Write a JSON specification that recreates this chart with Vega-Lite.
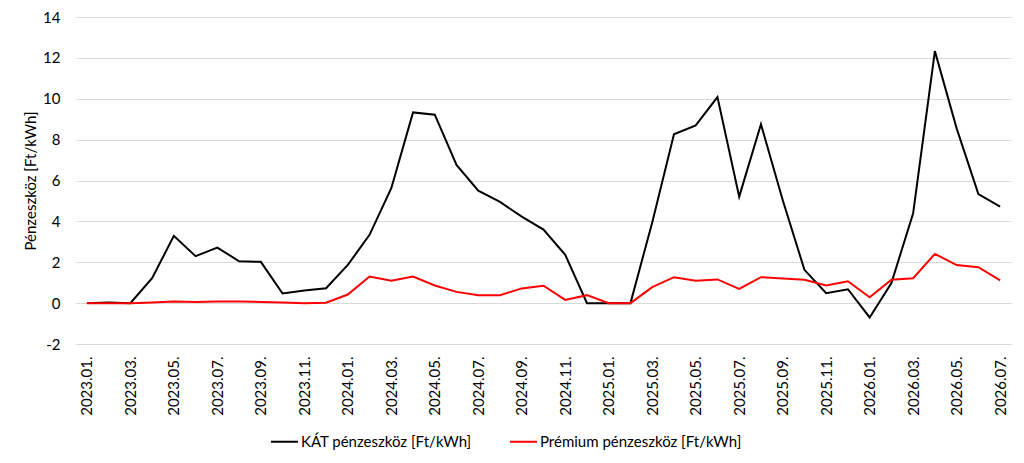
{
  "$schema": "https://vega.github.io/schema/vega-lite/v6.json",
  "autosize": {"type": "none"},
  "padding": {"left": 76, "top": 17, "right": 13, "bottom": 119},
  "width": 935,
  "height": 327,
  "background": "white",
  "config": {
    "view": {"stroke": null},
    "font": "Lato",
    "axis": {"labelFont": "Lato", "titleFont": "Lato", "labelColor": "#000000", "titleColor": "#000000"}
  },
  "datasets": {
    "raw": [
      {"m": "2023.01.", "kat": 0, "prem": 0},
      {"m": "2023.02.", "kat": 0.03, "prem": 0},
      {"m": "2023.03.", "kat": 0, "prem": 0},
      {"m": "2023.04.", "kat": 1.22, "prem": 0.03},
      {"m": "2023.05.", "kat": 3.29, "prem": 0.08},
      {"m": "2023.06.", "kat": 2.3, "prem": 0.06},
      {"m": "2023.07.", "kat": 2.72, "prem": 0.08},
      {"m": "2023.08.", "kat": 2.05, "prem": 0.08},
      {"m": "2023.09.", "kat": 2.02, "prem": 0.06},
      {"m": "2023.10.", "kat": 0.47, "prem": 0.03},
      {"m": "2023.11.", "kat": 0.62, "prem": 0},
      {"m": "2023.12.", "kat": 0.73, "prem": 0.02},
      {"m": "2024.01.", "kat": 1.87, "prem": 0.42},
      {"m": "2024.02.", "kat": 3.34, "prem": 1.3},
      {"m": "2024.03.", "kat": 5.62, "prem": 1.09},
      {"m": "2024.04.", "kat": 9.33, "prem": 1.3},
      {"m": "2024.05.", "kat": 9.22, "prem": 0.86},
      {"m": "2024.06.", "kat": 6.76, "prem": 0.55},
      {"m": "2024.07.", "kat": 5.5, "prem": 0.39},
      {"m": "2024.08.", "kat": 4.95, "prem": 0.39},
      {"m": "2024.09.", "kat": 4.23, "prem": 0.72},
      {"m": "2024.10.", "kat": 3.6, "prem": 0.85},
      {"m": "2024.11.", "kat": 2.36, "prem": 0.16},
      {"m": "2024.12.", "kat": 0, "prem": 0.39},
      {"m": "2025.01.", "kat": 0, "prem": 0},
      {"m": "2025.02.", "kat": 0, "prem": 0},
      {"m": "2025.03.", "kat": 3.95, "prem": 0.78},
      {"m": "2025.04.", "kat": 8.26, "prem": 1.27},
      {"m": "2025.05.", "kat": 8.7, "prem": 1.09},
      {"m": "2025.06.", "kat": 10.08, "prem": 1.16},
      {"m": "2025.07.", "kat": 5.21, "prem": 0.7},
      {"m": "2025.08.", "kat": 8.75, "prem": 1.27},
      {"m": "2025.09.", "kat": 5.05, "prem": 1.2},
      {"m": "2025.10.", "kat": 1.63, "prem": 1.14},
      {"m": "2025.11.", "kat": 0.49, "prem": 0.86},
      {"m": "2025.12.", "kat": 0.68, "prem": 1.07},
      {"m": "2026.01.", "kat": -0.7, "prem": 0.29},
      {"m": "2026.02.", "kat": 0.98, "prem": 1.14},
      {"m": "2026.03.", "kat": 4.4, "prem": 1.22},
      {"m": "2026.04.", "kat": 12.33, "prem": 2.41},
      {"m": "2026.05.", "kat": 8.55, "prem": 1.86},
      {"m": "2026.06.", "kat": 5.34, "prem": 1.76},
      {"m": "2026.07.", "kat": 4.72, "prem": 1.11}
    ]
  },
  "data": {"name": "raw"},
  "transform": [
    {"fold": ["kat", "prem"], "as": ["key", "value"]},
    {"calculate": "datum.key === 'kat' ? 'KÁT pénzeszköz [Ft/kWh]' : 'Prémium pénzeszköz [Ft/kWh]'", "as": "series"}
  ],
  "mark": {"type": "line", "strokeWidth": 2, "strokeJoin": "miter"},
  "encoding": {
    "x": {
      "field": "m",
      "type": "ordinal",
      "sort": null,
      "scale": {"type": "point", "padding": 0.5},
      "axis": {
        "title": null,
        "values": ["2023.01.", "2023.03.", "2023.05.", "2023.07.", "2023.09.", "2023.11.", "2024.01.", "2024.03.", "2024.05.", "2024.07.", "2024.09.", "2024.11.", "2025.01.", "2025.03.", "2025.05.", "2025.07.", "2025.09.", "2025.11.", "2026.01.", "2026.03.", "2026.05.", "2026.07."],
        "labelAngle": -90,
        "labelAlign": "right",
        "labelBaseline": "middle",
        "labelFontSize": 15,
        "labelPadding": 12,
        "ticks": false,
        "domain": false,
        "grid": false
      }
    },
    "y": {
      "field": "value",
      "type": "quantitative",
      "scale": {"domain": [-2, 14], "nice": false},
      "axis": {
        "title": "Pénzeszköz [Ft/kWh]",
        "titleFontSize": 15,
        "titleFontWeight": "normal",
        "titleX": -46,
        "titleBaseline": "middle",
        "values": [-2, 0, 2, 4, 6, 8, 10, 12, 14],
        "labelExpr": "replace(datum.label, '−', '-')",
        "labelFontSize": 15,
        "labelPadding": 16,
        "ticks": false,
        "domain": false,
        "grid": true,
        "gridColor": "#d9d9d9",
        "gridWidth": 1
      }
    },
    "color": {
      "field": "series",
      "type": "nominal",
      "scale": {"domain": ["KÁT pénzeszköz [Ft/kWh]", "Prémium pénzeszköz [Ft/kWh]"], "range": ["#000000", "#ff0000"]},
      "legend": {
        "title": null,
        "orient": "none",
        "direction": "horizontal",
        "legendX": 194,
        "legendY": 410,
        "symbolType": "stroke",
        "symbolSize": 729,
        "symbolStrokeWidth": 2,
        "labelFont": "Lato",
        "labelFontSize": 15,
        "labelColor": "#000000",
        "labelOffset": 2,
        "labelLimit": 400,
        "columnPadding": 34
      }
    }
  }
}
